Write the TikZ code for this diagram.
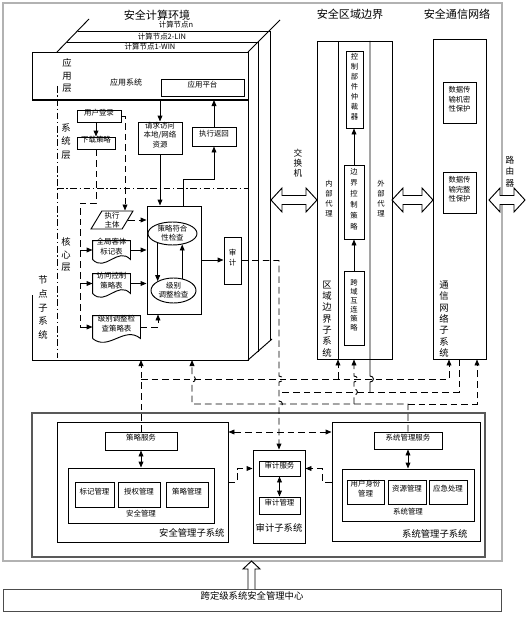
\documentclass[tikz,border=0pt]{standalone}
\usepackage{fontspec}
\setmainfont{Noto Sans CJK SC}
\usetikzlibrary{shapes.geometric,arrows.meta,calc,fit}
\newcommand\fz[2]{\fontsize{#1}{#2}\selectfont}
\newcommand\hopup[2]{-- (#1,#2+3) .. controls (#1+4.5,#2+3) and (#1+4.5,#2-3) .. (#1,#2-3)}
\newcommand\hopdn[2]{-- (#1,#2-3) .. controls (#1+4.5,#2-3) and (#1+4.5,#2+3) .. (#1,#2+3)}
\newcommand\hdarrow[3]{\draw[line width=0.7pt, fill=white] (#1,#3) -- (#1+11,#3-12) -- (#1+11,#3-4.5) -- (#2-11,#3-4.5) -- (#2-11,#3-12) -- (#2,#3) -- (#2-11,#3+12) -- (#2-11,#3+4.5) -- (#1+11,#3+4.5) -- (#1+11,#3+12) -- cycle;}
\tikzset{
 bx/.style={draw, line width=0.7pt, inner sep=0pt, align=center, font=\fz{5.6}{7}},
 tb/.style={inner sep=0pt, align=center, font=\fz{5.6}{7}},
 vt/.style={inner sep=0pt, align=center, font=\fz{7}{9.5}},
 arr/.style={-{Triangle[length=4.5pt,width=3.6pt]}},
 darr/.style={{Triangle[length=4.5pt,width=3.6pt]}-{Triangle[length=4.5pt,width=3.6pt]}},
 dsh/.style={dash pattern=on 5pt off 3pt},
 ddot/.style={dash pattern=on 5pt off 2pt on 1pt off 2pt},
}
\begin{document}
\begin{tikzpicture}[x=0.75pt,y=-0.75pt,line width=0.7pt]
\useasboundingbox (0,0) rectangle (526,617);
% outer frame and bottom centre
\node[draw=gray!60, line width=0.9pt, inner sep=0pt, fit={(3,3)(502,561)}] (outer) {};
\node[bx, draw=gray!60!black, fit={(3,589)(501,611)}, font=\fz{7}{8}] (center) {跨定级系统安全管理中心};
\draw[fill=white] (248,589) -- (248,569) -- (243,569) -- (251.5,561) -- (260,569) -- (255,569) -- (255,589);
% titles
\node[tb, font=\fz{8.3}{10}] (t1) at (157,15) {安全计算环境};
\node[tb, font=\fz{8.3}{10}] (t2) at (350,14) {安全区域边界};
\node[tb, font=\fz{8.3}{10}] (t3) at (457,14) {安全通信网络};
% node stack
\draw (78,31) -- (270,31) -- (270,341);
\draw (67,42) -- (258,42) -- (258,351.5);
\draw (89,19) -- (57,52);
\draw (280,20) -- (248,52);
\draw (248,360) -- (272,339);
\node[tb] (n3) at (176,25) {计算节点n};
\node[tb] (n2) at (162,36.5) {计算节点2-LIN};
\node[tb] (n1) at (150,47) {计算节点1-WIN};
\draw (32,100) -- (32,52) -- (248,52) -- (248,360) -- (32,360) -- (32,295);
\coordinate (tl) at (32,100);
\coordinate (fbS) at (32,360);
\draw[line width=1.5pt] (32,100) -- (248,100);
\draw[ddot] (57,86) -- (57,358);
\draw[ddot] (57,188) -- (248,188);
% layer labels
\node[vt, font=\fz{7}{9.4}] (yyc) at (67,75.5) {应\\用\\层};
\node[vt, font=\fz{7}{10}] (xtc) at (66,141.5) {系\\统\\层};
\node[vt, font=\fz{7}{9.4}] (hxc) at (66,254.5) {核\\心\\层};
\node[vt, font=\fz{7}{10.3}] (jdzxt) at (43,307.5) {节\\点\\子\\系\\统};
\node[tb, font=\fz{6}{7}] (yyxt) at (126,82) {应用系统};
\node[bx, fit={(161,79)(244,96)}] (yypt) {应用平台};
\node[bx, fit={(77,110)(121,122)}] (yhdl) {用户登录};
\node[bx, fit={(77,137)(115,149)}] (xzcl) {下载策略};
\node[bx, fit={(138,122)(182,154)}, font=\fz{5.6}{7.1}] (qqfw) {请求访问\\本地/网络\\资源};
\node[bx, fit={(192,127)(236,146)}] (zxfh) {执行返回};
\node[draw, trapezium, trapezium left angle=63, trapezium right angle=117, trapezium stretches=true, minimum width=31.5pt, minimum height=13.5pt, inner sep=0pt, align=center, font=\fz{5.6}{6.6}] (zxzt) at (112,220) {执行\\主体};
\node[tb, fit={(93,241)(130,259)}, font=\fz{5.6}{7.5}] (qjkt) {全局客体\\标记表};
\node[tb, fit={(93,274)(130,293)}, font=\fz{5.6}{7.5}] (fwkz) {访问控制\\策略表};
\node[tb, fit={(93,316)(140,338)}, font=\fz{5.6}{7.5}] (jbtz) {级别调整检\\查策略表};
\foreach \dn in {qjkt,fwkz,jbtz}{
  \draw let \p1=(\dn.south west), \p2=(\dn.south east) in
   (\dn.south west) -- (\dn.north west) -- (\dn.north east) -- (\p2)
   .. controls ({\x2-(\x2-\x1)/3},{\y2+10pt}) and ({\x1+(\x2-\x1)/3},{\y1-10pt}) .. (\p1);
}
\node[draw, inner sep=0pt, fit={(147,206)(201,314)}] (bigbox) {};
\node[draw, ellipse, minimum width=36.75pt, minimum height=17.25pt, inner sep=0pt, align=center, font=\fz{5.6}{6.8}] (e1) at (172.5,233.5) {策略符合\\性检查};
\node[draw, ellipse, minimum width=33.75pt, minimum height=18.75pt, inner sep=0pt, align=center, font=\fz{5.6}{6.8}] (e2) at (173.5,290.5) {级别\\调整检查};
\node[bx, fit={(224,237)(241,284)}, font=\fz{5.6}{7.5}] (sj) {审\\计};
% connectors in node
\draw[arr] (qqfw.north |- tl) -- (qqfw.north);
\draw[arr] (zxfh.north) -- (zxfh.north |- tl);
\draw[arr] (qqfw.south) -- (qqfw.south |- bigbox.north);
\coordinate (r1) at (183,179);
\draw[arr] (bigbox.north -| r1) -- (r1) -| (zxfh.south);
\draw[arr] (yhdl.south -| xzcl.north) -- (xzcl.north);
\coordinate (d1) at (125,116);
\draw[dsh,arr] (yhdl.east) -- (d1) -- (zxzt.north -| d1);
\coordinate (d2) at (96,203);
\coordinate (d3) at (80,203);
\draw[dsh] (xzcl.south) -- (d2) -- (d3) -- (d3 |- jbtz.west);
\draw[dsh,arr] (d3 |- qjkt.west) -- (qjkt.west);
\draw[dsh,arr] (d3 |- fwkz.west) -- (fwkz.west);
\draw[dsh,arr] (d3 |- jbtz.west) -- (jbtz.west);
\draw[dsh,arr] (zxzt.east) -- (zxzt.east -| bigbox.west);
\draw[arr] (qjkt.east) -- (qjkt.east -| bigbox.west);
\draw[arr] (fwkz.east) -- (fwkz.east -| bigbox.west);
\coordinate (d4) at (158,330);
\draw[dsh,arr] (jbtz.east) -| (bigbox.south -| d4);
\draw[arr] (e1.213) -- (e1.213 |- e2.150);
\draw[arr] (e2.54) -- (e2.54 |- e1.312);
\draw[arr] (bigbox.east) -- (bigbox.east -| sj.west);
% region boundary
\node[draw, inner sep=0pt, fit={(317,41)(392,359)}] (qy) {};
\coordinate (qyL) at (338,41);
\coordinate (qyR) at (370,41);
\coordinate (B370) at (370,392);
\draw (qyL) -- (qyL |- qy.south);
\draw (qyR) \hopdn{370}{379} -- (B370);
\node[bx, fit={(346,51)(363,128)}, font=\fz{5.5}{7.5}] (kz) {控\\制\\部\\件\\仲\\裁\\器};
\node[bx, fit={(344,165)(364,239)}, font=\fz{5.5}{8.2}] (bj) {边\\界\\控\\制\\策\\略};
\node[bx, fit={(344,271)(364,345)}, font=\fz{5.5}{6.8}] (ky) {跨\\域\\互\\连\\策\\略};
\draw[arr] (bj.north) -- (bj.north |- kz.south);
\draw[arr] (ky.north) -- (ky.north |- bj.south);
\node[tb, font=\fz{5.5}{7.7}] (nbdl) at (329,198.5) {内\\部\\代\\理};
\node[tb, font=\fz{5.5}{7.7}] (wbdl) at (381,198.5) {外\\部\\代\\理};
\node[vt, font=\fz{7}{8.5}] (qyzxt) at (327,319) {区\\域\\边\\界\\子\\系\\统};
% communication network
\node[draw, inner sep=0pt, fit={(433,39)(486,359)}] (tx) {};
\node[bx, fit={(443,82)(476,123)}, font=\fz{5.5}{7.2}] (jm) {数据传\\输机密\\性保护};
\node[bx, fit={(443,172)(476,213)}, font=\fz{5.5}{7.2}] (wz) {数据传\\输完整\\性保护};
\node[vt, font=\fz{7}{8.5}] (txzxt) at (444,319) {通\\信\\网\\络\\子\\系\\统};
% hollow double arrows
\hdarrow{271}{317}{200}
\hdarrow{392}{433}{200}
\hdarrow{489}{525}{200}
\node[tb, font=\fz{6.5}{7.5}] (jhj) at (298,163) {交\\换\\机};
\node[tb, font=\fz{6.5}{8.6}] (lyq) at (510,171.5) {路\\由\\器};
% management
\node[draw=gray!70!black, line width=0.9pt, inner sep=0pt, fit={(32,413)(485,557)}] (mgfr) {};
\node[draw, inner sep=0pt, fit={(57,422)(228,542)}] (aqglzxt) {};
\node[tb, font=\fz{7}{8}, anchor=east] (l1) at (225,533) {安全管理子系统};
\node[bx, fit={(105,432)(177,450)}] (clfw) {策略服务};
\node[draw, inner sep=0pt, fit={(68,468)(214,523)}] (aqgl) {};
\node[tb] (l2) at (141,514) {安全管理};
\node[bx, fit={(75,482)(114,507)}] (bjgl) {标记管理};
\node[bx, fit={(118,482)(160,507)}] (sqgl) {授权管理};
\node[bx, fit={(166,482)(208,507)}] (clgl) {策略管理};
\draw[darr] (clfw.south) -- (clfw.south |- aqgl.north);
\node[draw, inner sep=0pt, fit={(253,450)(305,543)}] (sjzxt) {};
\node[tb, font=\fz{7}{8}] (l3) at (279,528) {审计子系统};
\node[bx, fit={(259,461)(300,476)}] (sjfw) {审计服务};
\node[bx, fit={(259,497)(300,514)}] (sjgl) {审计管理};
\draw[darr] (sjfw.south) -- (sjgl.north);
\node[draw, inner sep=0pt, fit={(332,422)(480,541)}] (xtglzxt) {};
\node[tb, font=\fz{7}{8}, anchor=east] (l4) at (468,534) {系统管理子系统};
\node[bx, fit={(374,432)(442,449)}] (xtglfw) {系统管理服务};
\node[draw, inner sep=0pt, fit={(342,469)(474,521)}] (xtgl) {};
\node[tb] (l5) at (408,512) {系统管理};
\node[bx, fit={(347,480)(384,504)}, font=\fz{5.6}{7.5}] (yhsf) {用户身份\\管理};
\node[bx, fit={(388,480)(426,504)}] (zygl) {资源管理};
\node[bx, fit={(429,480)(467,504)}] (yjcl) {应急处理};
\draw[darr] (xtglfw.south) -- (xtglfw.south |- xtgl.north);
% dashed bus network
\coordinate (A0) at (141,379);
\coordinate (A338) at (338,379);
\coordinate (A449) at (449,379);
\coordinate (B279) at (279,392);
\coordinate (B459) at (459,392);
\coordinate (C192) at (192,404);
\coordinate (C354) at (354,404);
\coordinate (C477) at (477,404);
\draw[dsh,arr] (clfw.north) -- (clfw.north |- fbS);
\draw[dsh,arr] (A0) -- (A449) -- (tx.south -| A449);
\draw[dsh,arr] (A338) -- (qy.south -| A338);
\draw[dsh,arr] (xtglfw.north) |- (C192) \hopup{192}{379} -- (fbS -| C192);
\draw[dsh,arr] (xtglfw.north |- C192) -| (tx.south -| C477);
\draw[dsh,arr] (C354) \hopup{354}{392} \hopup{354}{379} -- (qy.south -| C354);
\draw[dsh] (tx.south -| B459) -- (B459) -- (B279);
\draw[dsh,arr] (sj.east) -- (sj.east -| sjzxt.north) \hopdn{279}{379} \hopdn{279}{404} -- (sjzxt.north);
\coordinate (k1) at (237,482);
\coordinate (k2) at (322,482);
\coordinate (k3) at (280,432);
\draw[dsh,arr] (aqglzxt.east |- k1) -- (k1) |- (sjzxt.west |- sjfw.west);
\draw[dsh,arr] (xtglzxt.west |- k2) -- (k2) |- (sjzxt.east |- sjfw.east);
\draw[dsh,darr] (aqglzxt.east |- k3) -- (xtglzxt.west |- k3);
\end{tikzpicture}
\end{document}
